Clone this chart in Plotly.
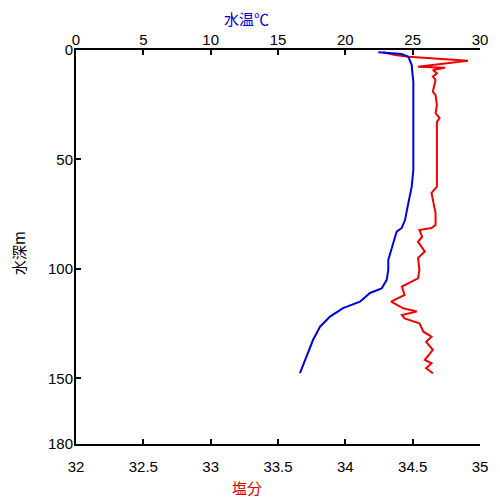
import plotly.graph_objects as go

# Temperature profile (blue, top axis)
temp_depth = [1.0, 1.8, 3.1, 5.3, 6.9, 9.9, 14.5, 54.8, 62.4, 69.9, 77.7, 81.3, 83.0, 88.2,
              95.9, 100.5, 105.0, 108.9, 111.0, 115.0, 117.9, 121.8, 126.4, 132.5, 138.4, 147.6]
temp_vals = [22.45, 24.18, 24.68, 24.8, 24.93, 24.97, 25.05, 25.05, 24.93, 24.68, 24.43, 24.19,
             23.81, 23.56, 23.19, 23.19, 23.07, 22.7, 21.83, 21.09, 19.83, 18.86, 18.12, 17.6,
             17.23, 16.63]

# Salinity profile (red, bottom axis)
sal_depth = [1.0, 2.3, 3.1, 3.8, 4.9, 7.6, 8.1, 9.1, 10.6, 12.2, 13.7, 19.0, 20.6, 25.1, 28.8,
             31.1, 32.8, 54.8, 62.4, 65.3, 68.5, 74.5, 79.9, 81.3, 82.2, 85.3, 87.6, 92.1, 95.0,
             100.5, 104.3, 105.8, 108.1, 111.9, 115.0, 118.0, 119.5, 121.1, 122.6, 124.9, 128.7,
             131.0, 133.3, 137.0, 141.6, 143.1, 145.4, 147.7]
sal_vals = [34.28, 34.37, 34.47, 34.62, 34.91, 34.54, 34.74, 34.65, 34.68, 34.65, 34.67, 34.65,
            34.67, 34.68, 34.67, 34.70, 34.68, 34.68, 34.68, 34.64, 34.65, 34.67, 34.67, 34.64,
            34.55, 34.57, 34.54, 34.59, 34.54, 34.55, 34.54, 34.49, 34.42, 34.44, 34.34, 34.43,
            34.53, 34.42, 34.44, 34.55, 34.58, 34.64, 34.60, 34.65, 34.59, 34.64, 34.60, 34.65]

sal_ticks = [32, 32.5, 33, 33.5, 34, 34.5, 35]
sal_ticktext = ["32", "32.5", "33", "33.5", "34", "34.5", "35"]
temp_ticks = [0, 5, 10, 15, 20, 25, 30]
depth_ticks = [0, 50, 100, 150, 180]

fig = go.Figure()
fig.add_trace(go.Scatter(x=sal_vals, y=sal_depth, mode="lines",
                         line=dict(color="#ee0000", width=2), xaxis="x", yaxis="y"))
fig.add_trace(go.Scatter(x=temp_vals, y=temp_depth, mode="lines",
                         line=dict(color="#0000dd", width=2), xaxis="x2", yaxis="y"))

tickfont = dict(family="Liberation Sans, Arial", size=15, color="black")
common = dict(showline=True, linecolor="black", linewidth=2,
              ticks="inside", ticklen=5, tickwidth=2, tickcolor="black",
              showgrid=False, zeroline=False, tickfont=tickfont, automargin=False)
fig.update_layout(
    width=500, height=500,
    margin=dict(l=68, r=28, t=42, b=64),
    paper_bgcolor="white", plot_bgcolor="white",
    showlegend=False,
    xaxis=dict(range=[32, 35], tickvals=sal_ticks, ticktext=sal_ticktext,
               ticklabelstandoff=8, **common),
    xaxis2=dict(range=[0, 30], tickvals=temp_ticks, overlaying="x", side="top",
                ticklabelstandoff=-3, **common),
    yaxis=dict(range=[180, 0], tickvals=depth_ticks, ticklabelstandoff=-2, **common),
    annotations=[
        dict(text="水温℃", xref="paper", yref="paper", x=(246 - 76) / 404, y=1,
             yshift=32, showarrow=False, xanchor="center", yanchor="middle",
             font=dict(family="Noto Sans CJK JP", size=15, color="#0000cc")),
        dict(text="塩分", xref="paper", yref="paper", x=(247 - 76) / 404, y=0,
             yshift=-43, showarrow=False, xanchor="center", yanchor="middle",
             font=dict(family="Noto Sans CJK JP", size=15, color="#cc0000")),
        dict(text="水深m", xref="paper", yref="paper", x=0, xshift=-57,
             y=(444 - 253) / 394, showarrow=False, textangle=-90,
             xanchor="center", yanchor="middle",
             font=dict(family="Noto Sans CJK JP", size=15, color="black")),
    ],
)

fig.write_html("out.html")
